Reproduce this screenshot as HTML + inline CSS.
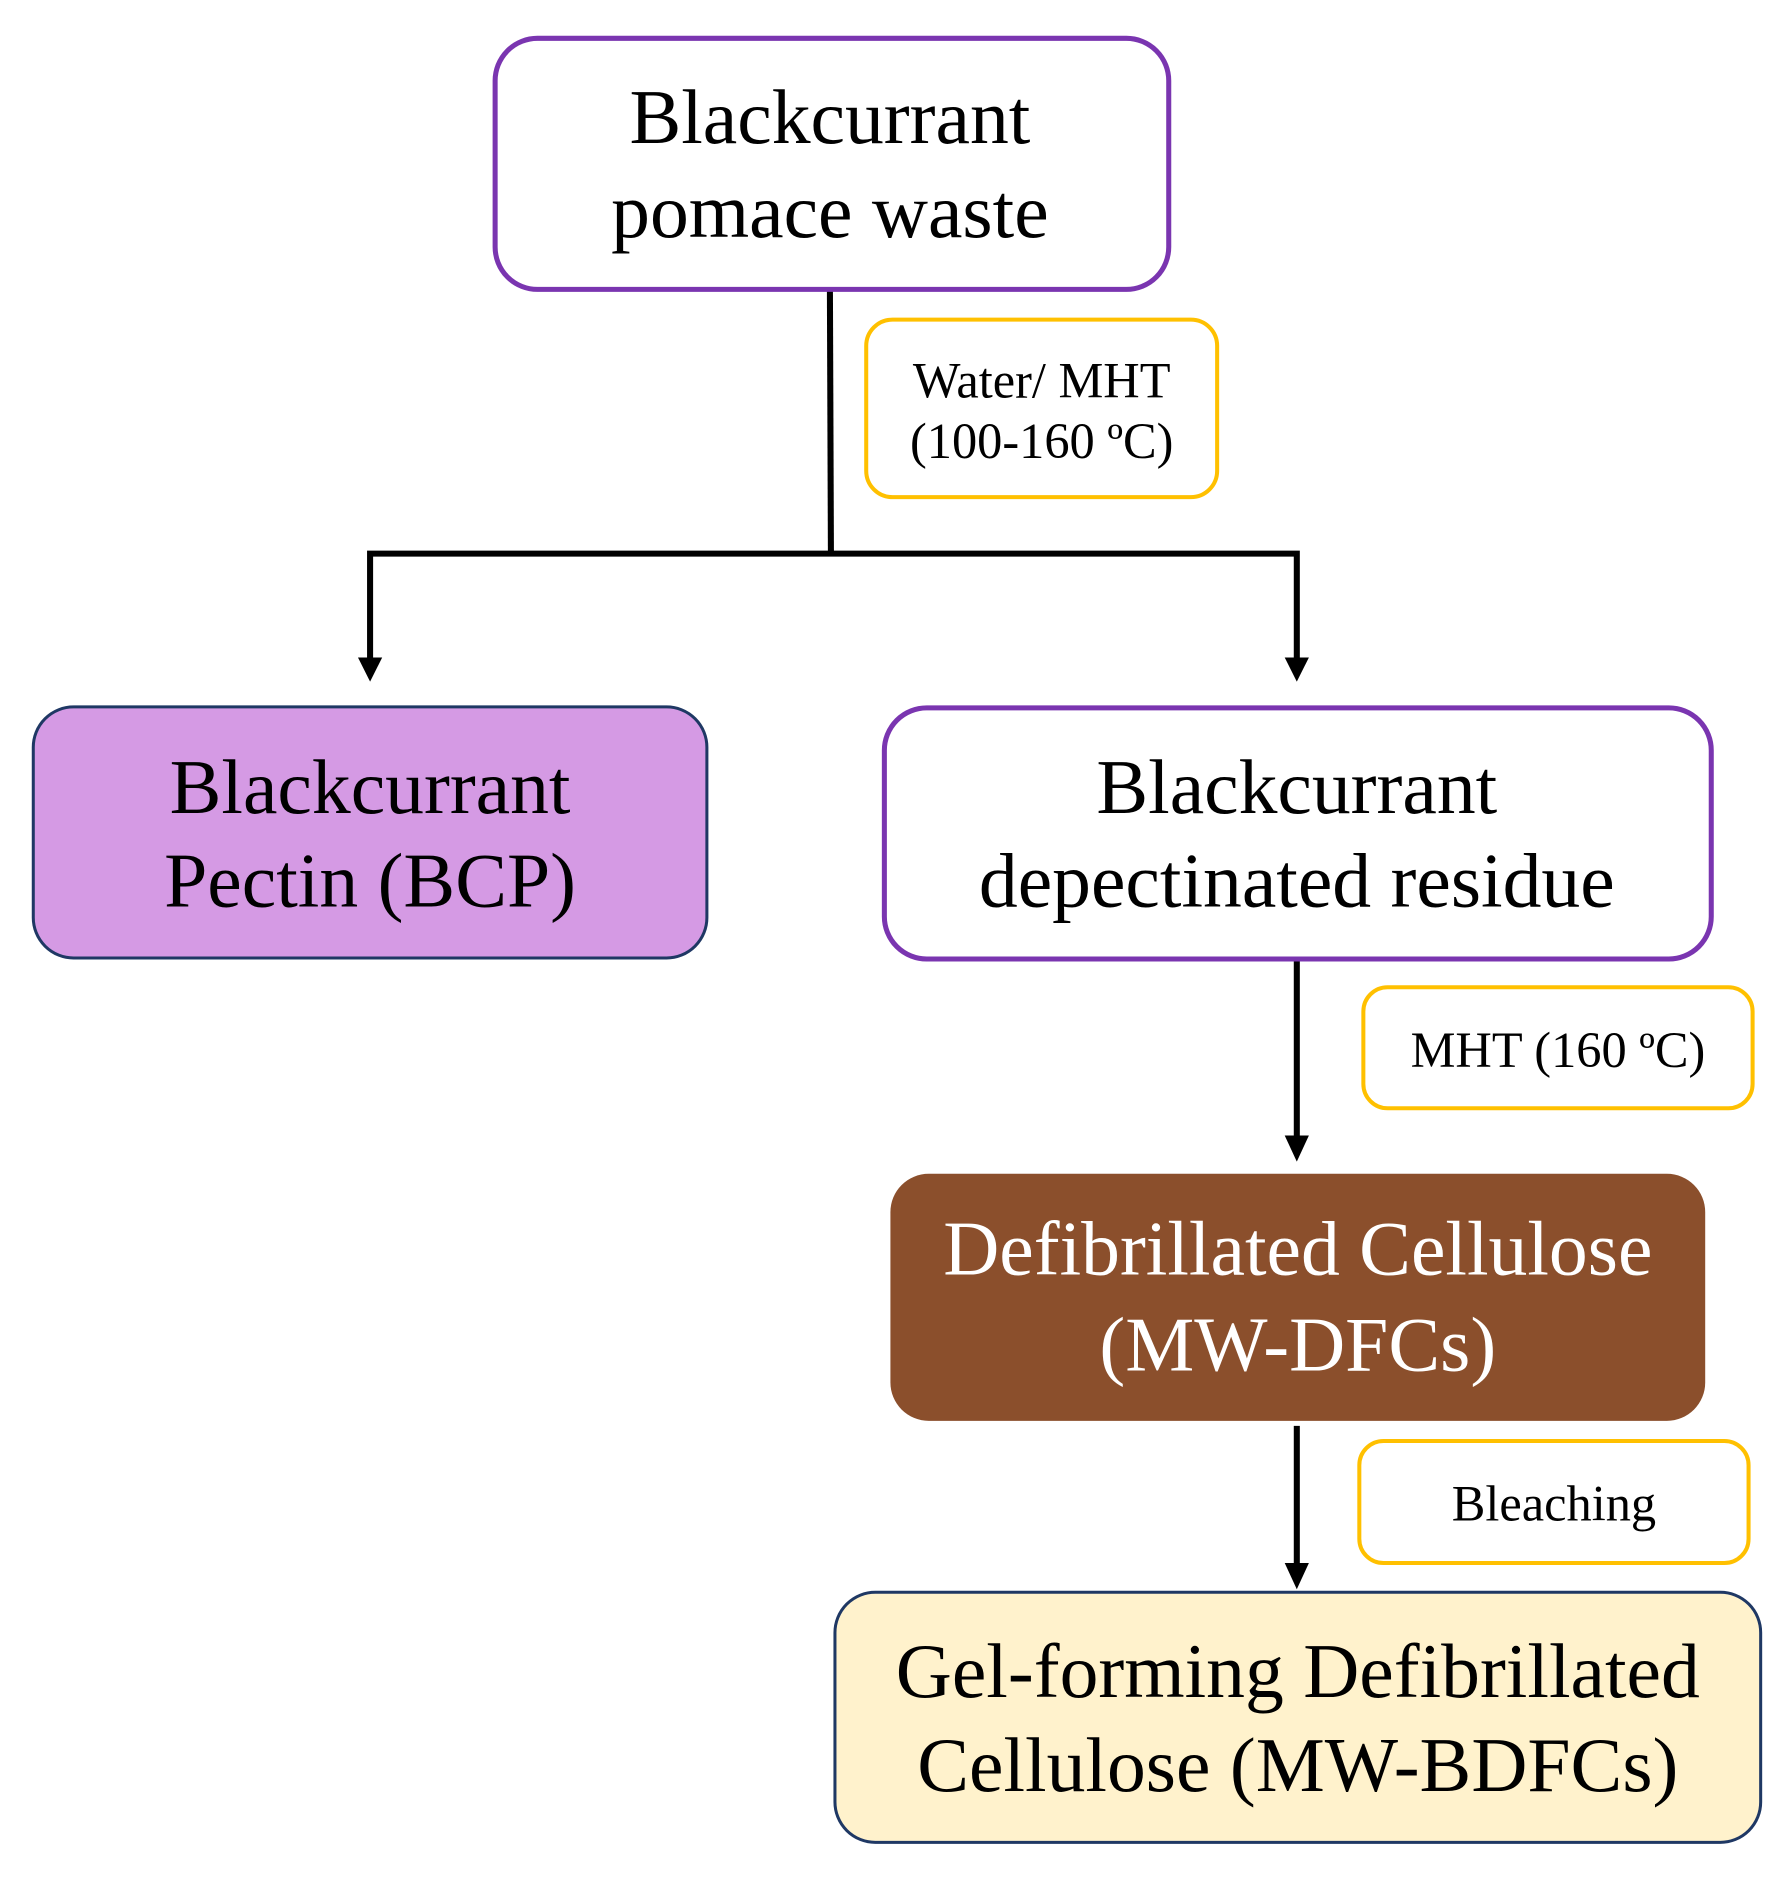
<!DOCTYPE html>
<html><head><meta charset="utf-8"><style>
html,body{margin:0;padding:0;background:#fff}
svg{display:block}
text{font-family:"Liberation Serif",serif;text-anchor:middle}
</style></head><body>
<svg width="1785" height="1877" viewBox="0 0 1785 1877" xmlns="http://www.w3.org/2000/svg">
<g transform="scale(1.0084)">
<g stroke="#000" stroke-width="6" fill="none">
<line x1="823" y1="288" x2="824" y2="551"/>
<polyline points="367,668 367,549 1286,549 1286,668"/>
<line x1="1286" y1="952" x2="1286" y2="1130"/>
<line x1="1286" y1="1414" x2="1286" y2="1555"/>
</g>
<g fill="#000">
<polygon points="355,652 379,652 367,676"/>
<polygon points="1274,652 1298,652 1286,676"/>
<polygon points="1274,1126 1298,1126 1286,1152"/>
<polygon points="1274,1550 1298,1550 1286,1576"/>
</g>
<rect x="491" y="38" width="668" height="249" rx="42" fill="#fff" stroke="#7A35B0" stroke-width="5"/>
<text x="823" y="142" font-size="77">Blackcurrant</text>
<text x="823" y="235" font-size="77">pomace waste</text>
<rect x="859" y="317" width="348" height="176" rx="26" fill="#fff" stroke="#FFC000" stroke-width="4"/>
<text x="1033" y="394" font-size="50">Water/ MHT</text>
<text x="1033" y="454" font-size="50">(100-160 ºC)</text>
<rect x="33" y="701" width="668" height="249" rx="40" fill="#D59AE4" stroke="#1F3864" stroke-width="3"/>
<text x="367" y="806" font-size="77">Blackcurrant</text>
<text x="367" y="899" font-size="77">Pectin (BCP)</text>
<rect x="877" y="702" width="820" height="249" rx="42" fill="#fff" stroke="#7A35B0" stroke-width="5"/>
<text x="1286" y="806" font-size="77">Blackcurrant</text>
<text x="1286" y="899" font-size="77">depectinated residue</text>
<rect x="1352" y="979" width="386" height="120" rx="24" fill="#fff" stroke="#FFC000" stroke-width="4"/>
<text x="1545" y="1058" font-size="50">MHT (160 ºC)</text>
<rect x="883" y="1164" width="808" height="245" rx="38" fill="#8B4F2C"/>
<text x="1287" y="1264" font-size="77" fill="#fff">Defibrillated Cellulose</text>
<text x="1287" y="1359" font-size="77" fill="#fff">(MW-DFCs)</text>
<rect x="1348" y="1429" width="386" height="121" rx="24" fill="#fff" stroke="#FFC000" stroke-width="4"/>
<text x="1541" y="1508" font-size="50">Bleaching</text>
<rect x="828" y="1579" width="918" height="248" rx="40" fill="#FFF2CC" stroke="#1F3864" stroke-width="3"/>
<text x="1287" y="1683" font-size="77">Gel-forming Defibrillated</text>
<text x="1287" y="1776" font-size="77">Cellulose (MW-BDFCs)</text>
</g>
</svg>
</body></html>
